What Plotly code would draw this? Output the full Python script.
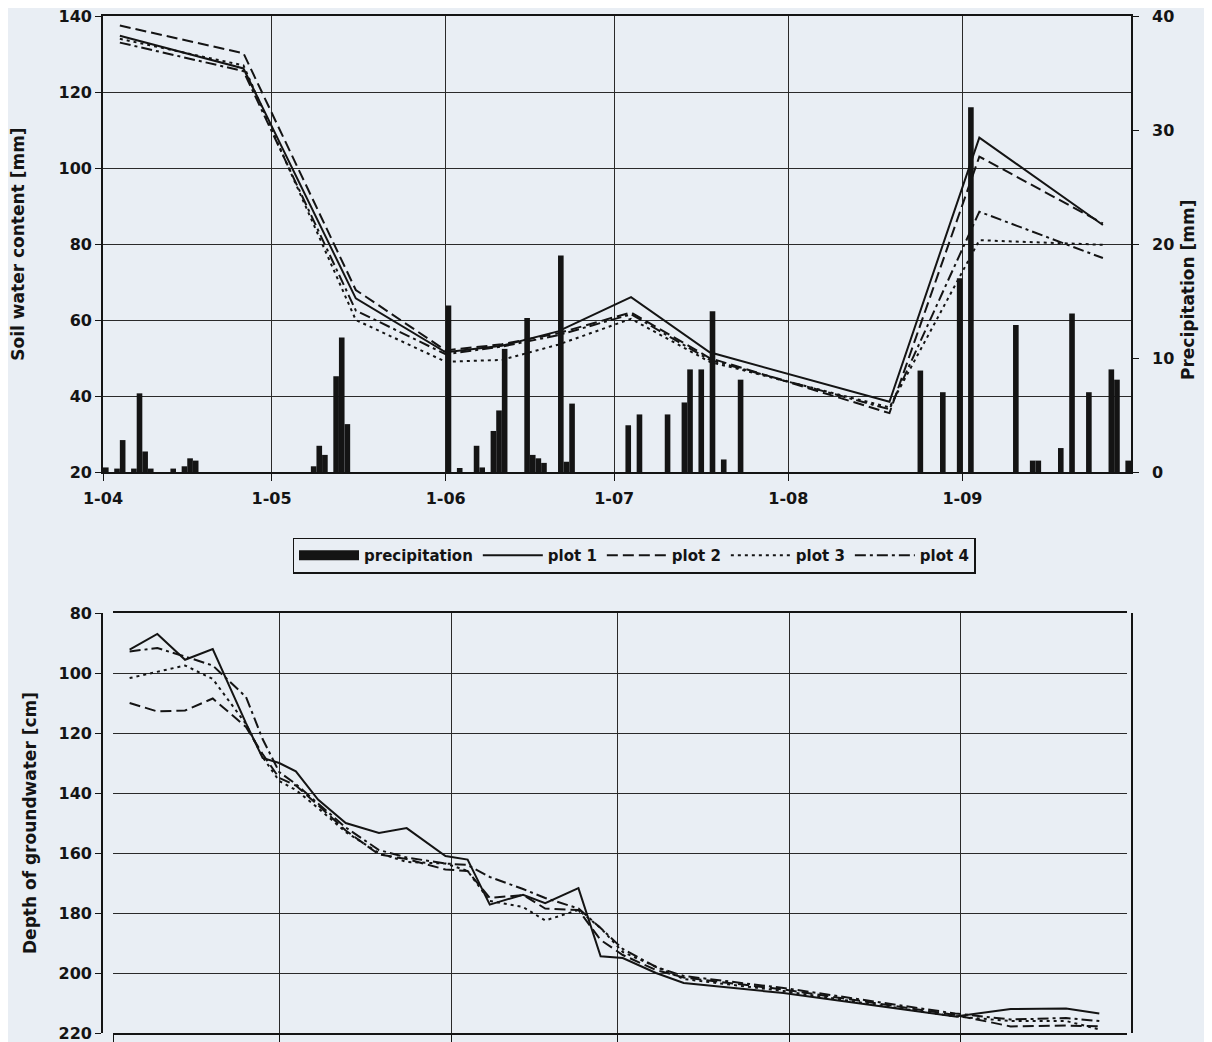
import plotly.graph_objects as go

# ---------------- data ----------------
month_ticks = ["2003-04-01", "2003-05-01", "2003-06-01", "2003-07-01", "2003-08-01", "2003-09-01"]
month_labels = ["1-04", "1-05", "1-06", "1-07", "1-08", "1-09"]

# soil water content [mm]
sw_dates = ["2003-04-04", "2003-04-26", "2003-05-16", "2003-06-01", "2003-06-11", "2003-06-21",
            "2003-07-04", "2003-07-18", "2003-08-19", "2003-09-04", "2003-09-26"]
sw_plot1 = [134.8, 126.2, 65.7, 51.5, 53.2, 57.0, 66.0, 51.5, 38.5, 108.0, 85.0]
sw_plot2 = [137.5, 130.2, 67.9, 52.0, 53.6, 56.5, 62.0, 50.0, 35.5, 103.0, 85.4]
sw_plot3 = [134.0, 127.0, 60.0, 49.0, 49.5, 53.5, 60.3, 49.0, 37.0, 81.0, 79.8]
sw_plot4 = [133.0, 125.5, 62.5, 51.0, 53.0, 56.0, 61.5, 49.5, 36.5, 88.5, 76.3]

# daily precipitation [mm]
precip_dates = ["2003-04-01", "2003-04-03", "2003-04-04", "2003-04-06", "2003-04-07", "2003-04-08",
                "2003-04-09", "2003-04-13", "2003-04-15", "2003-04-16", "2003-04-17",
                "2003-05-08", "2003-05-09", "2003-05-10", "2003-05-12", "2003-05-13", "2003-05-14",
                "2003-06-01", "2003-06-03", "2003-06-06", "2003-06-07", "2003-06-09", "2003-06-10",
                "2003-06-11", "2003-06-15", "2003-06-16", "2003-06-17", "2003-06-18", "2003-06-21",
                "2003-06-22", "2003-06-23",
                "2003-07-03", "2003-07-05", "2003-07-10", "2003-07-13", "2003-07-14", "2003-07-16",
                "2003-07-18", "2003-07-20", "2003-07-23",
                "2003-08-24", "2003-08-28", "2003-08-31",
                "2003-09-02", "2003-09-10", "2003-09-13", "2003-09-14", "2003-09-18", "2003-09-20",
                "2003-09-23", "2003-09-27", "2003-09-28", "2003-09-30"]
precip_mm = [0.4, 0.3, 2.8, 0.3, 6.9, 1.8,
             0.3, 0.3, 0.5, 1.2, 1.0,
             0.5, 2.3, 1.5, 8.4, 11.8, 4.2,
             14.6, 0.35, 2.3, 0.4, 3.6, 5.4,
             10.8, 13.5, 1.5, 1.2, 0.8, 19.0,
             0.9, 6.0,
             4.1, 5.05, 5.05, 6.1, 9.0, 9.0,
             14.1, 1.1, 8.1,
             8.9, 7.0, 17.0,
             32.0, 12.9, 1.0, 1.0, 2.1, 13.9,
             7.0, 9.0, 8.1, 1.0]

# depth of groundwater [cm]
gw_dates = ["2003-04-04", "2003-04-09", "2003-04-14", "2003-04-19", "2003-04-25", "2003-04-28",
            "2003-05-01", "2003-05-04", "2003-05-08", "2003-05-13", "2003-05-19", "2003-05-24",
            "2003-05-31", "2003-06-04", "2003-06-08", "2003-06-14", "2003-06-18", "2003-06-24",
            "2003-06-28", "2003-07-02", "2003-07-08", "2003-07-13", "2003-07-31", "2003-08-31",
            "2003-09-10", "2003-09-20", "2003-09-26"]
gw_plot1 = [92.2, 87.0, 95.6, 92.0, 116.7, 128.3, 130.0, 132.8, 142.2, 150.0, 153.3, 151.7,
            161.0, 162.2, 177.2, 173.9, 176.7, 171.7, 194.4, 195.0, 200.0, 203.3, 206.7, 214.5,
            212.0, 211.8, 213.5]
gw_plot2 = [110.0, 112.8, 112.5, 108.5, 118.0, 127.0, 135.0, 137.5, 144.0, 152.5, 160.5, 162.0,
            165.5, 166.0, 175.0, 174.0, 178.5, 179.0, 189.0, 194.0, 199.0, 201.5, 205.5, 214.0,
            217.8, 217.5, 217.8]
gw_plot3 = [101.7, 99.5, 97.5, 102.0, 117.0, 128.0, 136.0, 139.0, 145.0, 153.0, 160.0, 163.0,
            163.5, 166.0, 176.0, 178.0, 182.5, 179.0, 185.0, 193.0, 198.0, 202.0, 206.0, 214.5,
            216.0, 216.0, 218.8]
gw_plot4 = [92.8, 91.7, 94.5, 97.5, 108.0, 122.0, 133.0, 137.0, 143.5, 151.5, 159.0, 161.5,
            163.5, 164.0, 168.0, 172.0, 175.0, 178.5, 185.0, 192.0, 198.0, 201.0, 205.0, 213.5,
            215.5, 215.0, 216.0]

series_names = ["plot 1", "plot 2", "plot 3", "plot 4"]

# ---------------- styling ----------------
BG = "#e9eef4"
INK = "#141414"
FONT = "DejaVu Sans"
dashes = ["solid", "11px,5px", "3px,4px", "11px,4px,3px,4px"]
tickfont = dict(family=FONT, size=16, color=INK, weight="bold")
titlefont = dict(family=FONT, size=17, color=INK, weight="bold")

# page body has an 8px margin: figure is drawn 8px in, so size and positions compensate
PAGE_OFF = 8
W, H = 1212 - PAGE_OFF, 1042 - PAGE_OFF
# outer plot frame in window pixels
L, R, T, B = 103 - PAGE_OFF, 1131 - PAGE_OFF, 16 - PAGE_OFF, 1033 - PAGE_OFF
PW, PH = R - L, B - T


def px_x(x):
    return (x - PAGE_OFF - L) / PW


def px_y(y):
    return (B - (y - PAGE_OFF)) / PH


fig = go.Figure()

# precipitation bars (right axis, top panel)
fig.add_trace(go.Bar(
    x=precip_dates, y=precip_mm, xaxis="x", yaxis="y2",
    marker=dict(color=INK, line=dict(width=0)),
    width=1.0 * 86400000, offset=0, showlegend=False, name="precipitation"))

# legend proxy for precipitation (wide block like original)
fig.add_trace(go.Scatter(
    x=[None], y=[None], mode="lines", name="precipitation",
    line=dict(color=INK, width=11), xaxis="x", yaxis="y"))

sw_series = [sw_plot1, sw_plot2, sw_plot3, sw_plot4]
for name, vals, dash in zip(series_names, sw_series, dashes):
    fig.add_trace(go.Scatter(
        x=sw_dates, y=vals, mode="lines", name=name, xaxis="x", yaxis="y",
        line=dict(color=INK, width=2, dash=dash)))

gw_series = [gw_plot1, gw_plot2, gw_plot3, gw_plot4]
for name, vals, dash in zip(series_names, gw_series, dashes):
    fig.add_trace(go.Scatter(
        x=gw_dates, y=vals, mode="lines", name=name, xaxis="x2", yaxis="y3",
        showlegend=False, line=dict(color=INK, width=2, dash=dash)))

common_x = dict(type="date", range=["2003-04-01", "2003-10-01"],
                tickmode="array", tickvals=month_ticks, ticktext=month_labels,
                showgrid=True, gridcolor="#2a2a2a", gridwidth=1.3,
                showline=True, linecolor=INK, linewidth=1.6, mirror=True,
                ticks="outside", ticklen=7, tickcolor=INK, tickfont=tickfont,
                zeroline=False, automargin=False, ticklabeloverflow="allow")

fig.update_layout(
    width=W, height=H,
    paper_bgcolor=BG, plot_bgcolor=BG,
    margin=dict(l=L, r=W - R, t=T, b=H - B, pad=0),
    barmode="overlay",
    xaxis=dict(common_x, domain=[0, 1], anchor="y", ticklabelstandoff=4),
    yaxis=dict(domain=[px_y(472), 1], range=[20, 140], dtick=20, tick0=20,
               showgrid=True, gridcolor="#2a2a2a", gridwidth=1.3,
               showline=True, linecolor=INK, linewidth=1.6, mirror=False,
               ticks="outside", ticklen=6, tickcolor=INK, tickfont=tickfont,
               zeroline=False, automargin=False, ticklabeloverflow="allow",
               title=dict(text="Soil water content [mm]", font=titlefont, standoff=31)),
    yaxis2=dict(overlaying="y", side="right", anchor="x", range=[0, 40], dtick=10,
                showgrid=False, showline=True, linecolor=INK, linewidth=1.6,
                ticks="outside", ticklen=6, tickcolor=INK, tickfont=tickfont,
                ticklabelstandoff=10, zeroline=False, automargin=False,
                ticklabeloverflow="allow"),
    xaxis2=dict(common_x, domain=[px_x(113), px_x(1127)], anchor="y3", showticklabels=False),
    yaxis3=dict(domain=[0, px_y(613)], range=[220, 80], dtick=20, tick0=80,
                showgrid=True, gridcolor="#2a2a2a", gridwidth=1.3,
                showline=True, linecolor=INK, linewidth=1.6, mirror=True,
                ticks="outside", ticklen=6, tickcolor=INK, tickfont=tickfont,
                zeroline=False, automargin=False, ticklabeloverflow="allow",
                title=dict(text="Depth of groundwater [cm]", font=titlefont, standoff=18)),
    legend=dict(orientation="h", x=px_x(634), y=px_y(555.5), xanchor="center", yanchor="middle",
                bgcolor=BG, bordercolor=INK, borderwidth=1.5,
                font=dict(family=FONT, size=15, color=INK, weight="bold"),
                itemwidth=60, tracegroupgap=0),
    annotations=[dict(text="Precipitation [mm]", textangle=-90, xref="paper", yref="paper",
                      x=px_x(1188), y=px_y(290), xanchor="center", yanchor="middle",
                      showarrow=False, font=titlefont)],
)

fig.write_html("out.html")
